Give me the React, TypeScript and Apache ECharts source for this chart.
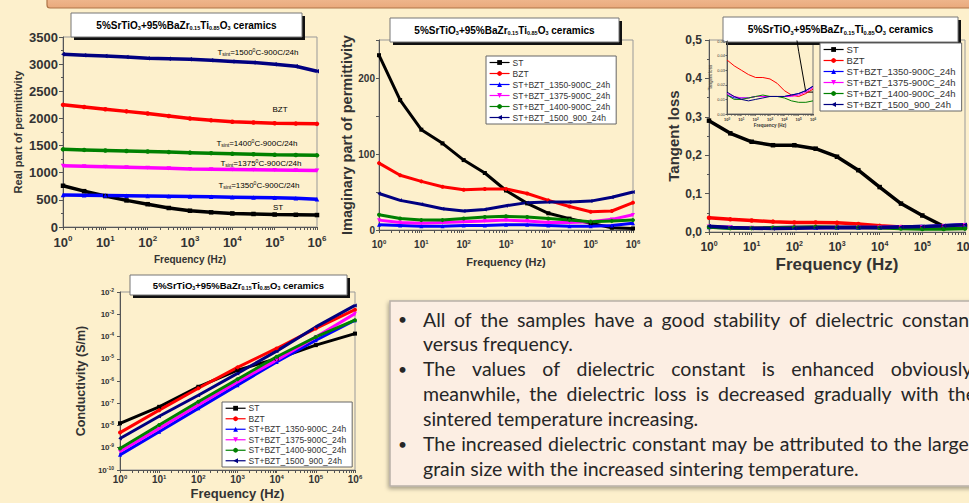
import React, { useEffect, useRef } from 'react';
import * as echarts from 'echarts';

// ---------- data ----------
const freq = [1, 3.16, 10, 31.6, 100, 316, 1000, 3160, 10000, 31600, 100000, 316000, 1000000];
const decades = [1, 10, 100, 1000, 10000, 100000, 1000000];

const names = ['ST', 'BZT', 'ST+BZT_1350-900C_24h', 'ST+BZT_1375-900C_24h', 'ST+BZT_1400-900C_24h', 'ST+BZT_1500_900_24h'];
const colors = ['#000000', '#FF0000', '#0000FF', '#FF00FF', '#008000', '#000080'];
const symbols = ['rect', 'circle', 'triangle', 'path://M0,0L10,0L5,9Z', 'circle', 'path://M0,5L9,0L9,10Z'];

// Real part of permittivity
const realST = [760, 660, 570, 490, 420, 350, 300, 270, 250, 240, 230, 225, 220];
const realBZT = [2250, 2210, 2170, 2130, 2090, 2045, 2000, 1965, 1940, 1925, 1910, 1905, 1900];
const real1350 = [590, 585, 580, 575, 570, 565, 560, 555, 550, 545, 540, 530, 510];
const real1375 = [1130, 1120, 1110, 1100, 1090, 1080, 1070, 1065, 1060, 1055, 1050, 1045, 1040];
const real1400 = [1430, 1420, 1410, 1400, 1390, 1380, 1370, 1360, 1350, 1340, 1330, 1325, 1320];
const real1500 = [3180, 3165, 3150, 3130, 3110, 3100, 3090, 3070, 3050, 3030, 3000, 2960, 2870];

// Imaginary part of permittivity
const imagST = [230, 171, 132, 114, 92, 75, 52, 35, 22, 15, 9, 3, 2];
const imagBZT = [88, 72, 64, 57, 53, 54, 54, 48, 39, 31, 24, 25, 36];
const imag1350 = [7, 6, 5, 5, 6, 6, 7, 7, 6, 5, 5, 6, 9];
const imag1375 = [13, 10, 9, 10, 11, 12, 13, 12, 10, 10, 11, 14, 20];
const imag1400 = [20, 15, 13, 13, 15, 17, 18, 17, 15, 13, 11, 12, 13];
const imag1500 = [48, 39, 34, 28, 25, 27, 32, 36, 37, 37, 38, 43, 50];

// Tangent loss
const tanST = [0.29, 0.257, 0.235, 0.226, 0.226, 0.217, 0.196, 0.161, 0.117, 0.074, 0.043, 0.015, 0.015];
const tanBZT = [0.037, 0.033, 0.03, 0.027, 0.025, 0.025, 0.024, 0.021, 0.016, 0.013, 0.012, 0.014, 0.017];
const tan1350 = [0.013, 0.011, 0.011, 0.011, 0.012, 0.012, 0.012, 0.012, 0.012, 0.013, 0.014, 0.016, 0.019];
const tan1375 = [0.014, 0.012, 0.011, 0.011, 0.012, 0.012, 0.012, 0.012, 0.012, 0.012, 0.013, 0.015, 0.018];
const tan1400 = [0.013, 0.01, 0.01, 0.011, 0.012, 0.013, 0.012, 0.012, 0.011, 0.009, 0.008, 0.008, 0.009];
const tan1500 = [0.015, 0.012, 0.01, 0.009, 0.01, 0.011, 0.012, 0.012, 0.012, 0.013, 0.014, 0.016, 0.019];

// Conductivity (S/m)
const condST = [1.26e-8, 6.9e-8, 5.5e-7, 3.1e-6, 1.0e-5, 4.1e-5, 1.35e-4];
const condBZT = [4.8e-9, 4.9e-8, 4.7e-7, 4.1e-6, 2.9e-5, 2.3e-4, 1.6e-3];
const cond1350 = [4.8e-10, 5.2e-9, 5.9e-8, 6.5e-7, 7.2e-6, 6.8e-5, 5.4e-4];
const cond1375 = [6.8e-10, 7.4e-9, 8.3e-8, 9.1e-7, 8.7e-6, 9.5e-5, 1.07e-3];
const cond1400 = [9.3e-10, 1.05e-8, 1.17e-7, 1.2e-6, 1.23e-5, 9.5e-5, 5.4e-4];
const cond1500 = [2.6e-9, 2.6e-8, 2.3e-7, 2.2e-6, 2.2e-5, 2.7e-4, 2.5e-3];

const titleText = '{m|5%SrTiO}{s|3}{m|+95%BaZr}{s|0.15}{m|Ti}{s|0.85}{m|O}{s|3}{m| ceramics}';

const annotations = [
  { t: '{m|T}{s|sint}{m|=1500}{p|0}{m|C-900C/24h}', c: '#3a3ab0' },
  { t: '{m|BZT}', c: '#FF2020' },
  { t: '{m|T}{s|sint}{m|=1400}{p|0}{m|C-900C/24h}', c: '#108010' },
  { t: '{m|T}{s|sint}{m|=1375}{p|0}{m|C-900C/24h}', c: '#FF20FF' },
  { t: '{m|T}{s|sint}{m|=1350}{p|0}{m|C-900C/24h}', c: '#3030FF' },
  { t: '{m|ST}', c: '#000000' },
];

const paragraphs = [
  ['All of the samples have a good stability of dielectric constant', 'versus frequency.'],
  ['The values of dielectric constant is enhanced obviously,', 'meanwhile, the dielectric loss is decreased gradually with the', 'sintered temperature increasing.'],
  ['The increased dielectric constant may be attributed to the larger', 'grain size with the increased sintering temperature.'],
];

// ---------- helpers ----------
const FONT = '"Liberation Sans", Arial, sans-serif';
const BG = '#FDF0CC';

const logTicks: number[] = [];
for (let e = 0; e < 6; e++) for (let m = 1; m < 10; m++) logTicks.push(m * Math.pow(10, e));
logTicks.push(1e6);

const pow10 = (v: number) => `{b|10}{s|${Math.round(Math.log10(v))}}`;
const supRich = (base: number, sup: number, lift: number) => ({
  b: { fontSize: base, fontWeight: 'bold', color: '#333', fontFamily: FONT, lineHeight: base + 3 },
  s: { fontSize: sup, fontWeight: 'bold', color: '#333', fontFamily: FONT, lineHeight: sup, padding: [0, 0, lift, 0] },
});
const subRich = (base: number, sub: number, drop: number, weight: string, color: string) => ({
  m: { fontSize: base, fontWeight: weight, color, fontFamily: FONT, lineHeight: base + 3 },
  s: { fontSize: sub, fontWeight: weight, color, fontFamily: FONT, lineHeight: sub, padding: [drop, 0, 0, 0] },
  p: { fontSize: sub, fontWeight: weight, color, fontFamily: FONT, lineHeight: sub, padding: [0, 0, drop, 0] },
});

const axisLine = { show: true, lineStyle: { color: '#555', width: 1 } };
const nameStyle = (fs: number) => ({ fontSize: fs, fontWeight: 'bold', color: '#333', fontFamily: FONT });

function logX(gridIndex: number, base: number, sup: number, lift: number, margin: number, name: string, nameFs: number, nameGap: number, tickLen = 3) {
  return {
    type: 'log', logBase: 10, min: 1, max: 1e6, gridIndex, splitNumber: 6,
    axisLine,
    axisTick: { show: true, length: tickLen, customValues: logTicks, lineStyle: { color: '#555' } },
    minorTick: { show: false }, splitLine: { show: false },
    axisLabel: { margin, formatter: pow10, rich: supRich(base, sup, lift), showMinLabel: true, showMaxLabel: true, hideOverlap: false },
    name, nameLocation: 'middle', nameGap, nameTextStyle: nameStyle(nameFs),
  };
}

function mkSeries(xi: number, xs: number[], arrs: number[][], width: number, symSize: number, showSymbol = true) {
  return arrs.map((arr, k) => ({
    type: 'line', name: names[k], xAxisIndex: xi, yAxisIndex: xi,
    data: arr.map((v, i) => [xs[i], v]),
    symbol: symbols[k], symbolSize: symSize, showSymbol, symbolKeepAspect: true,
    lineStyle: { color: colors[k], width },
    itemStyle: { color: colors[k] },
    silent: true, animation: false, clip: true,
  }));
}

function legendAt(left: number, top: number, fs: number, lh: number) {
  return {
    show: true, orient: 'vertical', left, top, data: names, selectedMode: false,
    itemWidth: 20, itemHeight: 6, itemGap: 0,
    backgroundColor: '#FFFFFF', borderColor: '#666', borderWidth: 1, borderRadius: 0,
    padding: [1, 6, 1, 3],
    textStyle: { fontSize: fs, color: '#333', fontFamily: FONT, lineHeight: lh, padding: [0, 0, 0, -2] },
    lineStyle: { width: 1.2 },
    itemStyle: { borderWidth: 0 },
  };
}

function titleBox(x: number, y: number, w: number, h: number, fs: number) {
  return {
    type: 'group', z: 50,
    children: [
      { type: 'rect', shape: { x: x + 3, y: y + 3, width: w, height: h }, style: { fill: '#111' } },
      { type: 'rect', shape: { x, y, width: w, height: h }, style: { fill: '#FFFFFF', stroke: '#777', lineWidth: 1 } },
      {
        type: 'text',
        style: { x: x + w / 2, y: y + h / 2, align: 'center', verticalAlign: 'middle', text: titleText, rich: subRich(fs, fs * 0.55, Math.round(fs * 0.6), 'bold', '#111') },
      },
    ],
  };
}

function buildTextBox() {
  const els: any[] = [];
  els.push({
    type: 'rect', z: 5,
    shape: { x: 390, y: 301, width: 640, height: 185 },
    style: { fill: '#FCEEE3', stroke: '#B8B0A8', lineWidth: 1.5, shadowBlur: 4, shadowColor: 'rgba(0,0,0,0.35)', shadowOffsetX: -1, shadowOffsetY: 2 },
  });
  const fam = 'Lato';
  const canvas = document.createElement('canvas');
  const ctx = canvas.getContext('2d')!;
  ctx.font = `100px ${fam}`;
  const refW = ctx.measureText('grain size with the increased sintering temperature.').width;
  const fs = Math.round((437 / refW) * 1000) / 10;
  ctx.font = `${fs}px ${fam}`;
  const space = ctx.measureText(' ').width;
  const left = 423, right = 976;
  let y = 319;
  const base = { fontSize: fs, fontFamily: fam, fill: '#262626', verticalAlign: 'middle', align: 'left' };
  paragraphs.forEach((lines) => {
    els.push({ type: 'text', z: 6, style: { ...base, fontSize: fs * 0.8, x: 398, y, text: '•' } });
    lines.forEach((line, i) => {
      if (i === lines.length - 1) {
        els.push({ type: 'text', z: 6, style: { ...base, x: left, y, text: line } });
      } else {
        const words = line.split(' ');
        const ws = words.map((w) => ctx.measureText(w).width);
        const total = ws.reduce((a, b) => a + b, 0);
        let gap = (right - left - total) / (words.length - 1);
        if (gap < space) gap = space;
        let x = left;
        words.forEach((w, k) => {
          els.push({ type: 'text', z: 6, style: { ...base, x, y, text: w } });
          x += ws[k] + gap;
        });
      }
      y += 24.9;
    });
  });
  return els;
}

export default function App() {
  const ref = useRef<HTMLDivElement>(null);
  useEffect(() => {
    if (!ref.current) return;
    const chart = echarts.init(ref.current, null, { renderer: 'svg' });

    const annPos = [
      [258, 52], [280, 109], [257, 143], [261, 163], [259, 185], [278, 207],
    ];

    const graphic: any[] = [
      {
        type: 'rect', z: 1,
        shape: { x: 47, y: -12, width: 960, height: 20, r: 3 },
        style: {
          fill: new echarts.graphic.LinearGradient(0, 0, 0, 1, [
            { offset: 0, color: '#F6C7A2' }, { offset: 1, color: '#E9A97C' },
          ]),
          stroke: '#B07548', lineWidth: 1.2,
        },
      },
      { type: 'text', z: 2, style: { x: 832, y: 3, text: 'room', align: 'center', verticalAlign: 'bottom', fontSize: 20, fontWeight: 'bold', fontFamily: FONT, fill: '#444' } },
      titleBox(71, 13, 231, 24, 10),
      titleBox(390, 18, 229, 24, 10),
      titleBox(723, 17, 235, 25, 10.3),
      titleBox(130, 275, 217, 20, 9.5),
      ...annotations.map((a, i) => ({
        type: 'text', z: 20,
        style: { x: annPos[i][0], y: annPos[i][1], align: 'center', verticalAlign: 'middle', text: a.t, rich: subRich(8, 5, 4, 'normal', a.c) },
      })),
      ...buildTextBox(),
    ];

    const option: any = {
      animation: false,
      backgroundColor: BG,
      textStyle: { fontFamily: FONT },
      grid: [
        { left: 63, top: 37, width: 254, height: 190, show: true, borderColor: '#999', borderWidth: 1, backgroundColor: 'transparent', containLabel: false, outerBoundsMode: 'none' },
        { left: 379, top: 40, width: 254, height: 190, show: true, borderColor: '#999', borderWidth: 1, backgroundColor: 'transparent', containLabel: false, outerBoundsMode: 'none' },
        { left: 709, top: 40, width: 256, height: 192, show: true, borderColor: '#999', borderWidth: 1, backgroundColor: 'transparent', containLabel: false, outerBoundsMode: 'none' },
        { left: 727, top: 41, width: 86, height: 73, show: true, borderColor: '#777', borderWidth: 1, backgroundColor: 'transparent', containLabel: false, outerBoundsMode: 'none' },
        { left: 120, top: 292, width: 235, height: 178, show: true, borderColor: '#999', borderWidth: 1, backgroundColor: 'transparent', containLabel: false, outerBoundsMode: 'none' },
      ],
      xAxis: [
        logX(0, 13, 8, 8, 7, 'Frequency (Hz)', 10, 27),
        logX(1, 10, 6, 6, 8, 'Frequency (Hz)', 11, 26),
        logX(2, 12, 7, 7, 7, 'Frequency (Hz)', 17, 24),
        logX(3, 4, 3, 2, 2, 'Frequency (Hz)', 4.5, 8, 1.5),
        logX(4, 10, 6, 6, 3, 'Frequency (Hz)', 13, 17),
      ],
      yAxis: [
        {
          type: 'value', gridIndex: 0, min: 0, max: 3500, interval: 500,
          axisLine, axisTick: { show: true, length: 4, lineStyle: { color: '#555' } },
          minorTick: { show: true, splitNumber: 2, length: 2, lineStyle: { color: '#555' } },
          splitLine: { show: false },
          axisLabel: { fontSize: 13, fontWeight: 'bold', color: '#333', margin: 5, fontFamily: FONT, formatter: (v: number) => String(v) },
          name: 'Real part of permittivity', nameLocation: 'middle', nameGap: 40, nameRotate: 90, nameTextStyle: nameStyle(11),
        },
        {
          type: 'value', gridIndex: 1, min: 0, max: 250, interval: 50,
          axisLine, axisTick: { show: true, length: 3, lineStyle: { color: '#555' } },
          splitLine: { show: false },
          axisLabel: { fontSize: 10, fontWeight: 'bold', color: '#333', margin: 4, fontFamily: FONT, formatter: (v: number) => (v % 100 === 0 ? String(v) : '') },
          name: 'Imaginary part of permittivity', nameLocation: 'middle', nameGap: 23, nameRotate: 90, nameTextStyle: nameStyle(14.5),
        },
        {
          type: 'value', gridIndex: 2, min: 0, max: 0.5, interval: 0.1,
          axisLine, axisTick: { show: true, length: 4, lineStyle: { color: '#555' } },
          minorTick: { show: true, splitNumber: 2, length: 2, lineStyle: { color: '#555' } },
          splitLine: { show: false },
          axisLabel: { fontSize: 12, fontWeight: 'bold', color: '#333', margin: 7, fontFamily: FONT, formatter: (v: number) => v.toFixed(1).replace('.', ',') },
          name: 'Tangent loss', nameLocation: 'middle', nameGap: 28, nameRotate: 90, nameTextStyle: nameStyle(15),
        },
        {
          type: 'value', gridIndex: 3, min: 0, max: 0.05, interval: 0.01,
          axisLine, axisTick: { show: true, length: 1.5, lineStyle: { color: '#555' } },
          splitLine: { show: false },
          axisLabel: { fontSize: 4, color: '#333', margin: 2, fontFamily: FONT, formatter: (v: number) => v.toFixed(2) },
          name: 'Tangent loss', nameLocation: 'middle', nameGap: 11, nameRotate: 90, nameTextStyle: { fontSize: 4.5, color: '#333', fontFamily: FONT },
        },
        {
          type: 'log', gridIndex: 4, logBase: 10, min: 1e-10, max: 1e-2, splitNumber: 8,
          axisLine, axisTick: { show: true, length: 3, lineStyle: { color: '#555' } },
          minorTick: { show: false }, splitLine: { show: false },
          axisLabel: { margin: 6, formatter: pow10, rich: supRich(8, 5, 5), showMinLabel: true, showMaxLabel: true, hideOverlap: false },
          name: 'Conductivity (S/m)', nameLocation: 'middle', nameGap: 33, nameRotate: 90, nameTextStyle: nameStyle(12.5),
        },
      ],
      legend: [
        legendAt(486, 56, 8.5, 11),
        legendAt(820, 43, 9.5, 11),
        legendAt(222, 402, 8.5, 10.5),
      ],
      series: [
        ...mkSeries(0, freq, [realST, realBZT, real1350, real1375, real1400, real1500], 3.5, 4.5),
        ...mkSeries(1, freq, [imagST, imagBZT, imag1350, imag1375, imag1400, imag1500], 3, 4),
        ...mkSeries(2, freq, [tanST, tanBZT, tan1350, tan1375, tan1400, tan1500], 3.5, 4.5),
        ...mkSeries(3, freq, [tanST, tanBZT, tan1350, tan1375, tan1400, tan1500], 1, 2, false),
        ...mkSeries(4, decades, [condST, condBZT, cond1350, cond1375, cond1400, cond1500], 3, 4),
      ],
      graphic,
    };
    chart.setOption(option);
    return () => chart.dispose();
  }, []);
  return <div ref={ref} style={{ position: 'absolute', left: 0, top: 0, width: 969, height: 503 }} />;
}
